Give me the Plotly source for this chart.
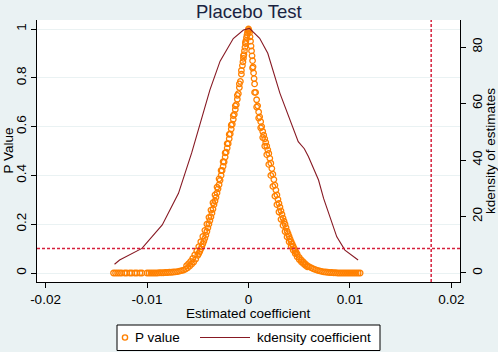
import plotly.graph_objects as go

title_text = "Placebo Test"

# Placebo estimates and their p-values: main run of points
coef_x = [
    -0.0133, -0.0131, -0.0129, -0.0127, -0.0125, -0.0122, -0.0120, -0.0117, -0.0115, -0.0112,
    -0.0110, -0.0107, -0.0105, -0.0100, -0.0098, -0.0096, -0.0094, -0.0092, -0.0090, -0.0088,
    -0.0086, -0.0084, -0.0082, -0.0080, -0.0078, -0.0076, -0.0074, -0.0072, -0.0070, -0.0068,
    -0.0066, -0.0064, -0.0062, -0.0060, -0.0058, -0.0056, -0.0054, -0.0052, -0.0050, -0.0049,
    -0.0048, -0.0047, -0.0046, -0.0045, -0.0044, -0.0043, -0.0042, -0.0041, -0.0040, -0.0039,
    -0.0038, -0.0037, -0.0036, -0.0035, -0.0034, -0.0033, -0.0032, -0.0031, -0.0030, -0.0029,
    -0.0028, -0.0027, -0.0026, -0.0025, -0.0024, -0.0023, -0.0022, -0.0021, -0.0020, -0.0019,
    -0.0018, -0.0017, -0.0016, -0.0015, -0.0014, -0.0013, -0.0012, -0.0011, -0.0010, -0.0009,
    -0.0008, -0.0007, -0.0006, -0.00055, -0.0005, -0.00045, -0.0004, -0.00035, -0.0003, -0.00025,
    -0.0002, -0.00015, -0.0001, -0.00005, 0.0000,
    0.00005, 0.0001, 0.00015, 0.0002, 0.00025, 0.0003, 0.00035, 0.0004, 0.00045, 0.0005,
    0.00055, 0.0006, 0.0007, 0.0008, 0.0009, 0.0010, 0.0011, 0.0012, 0.0013, 0.0014,
    0.0015, 0.0016, 0.0017, 0.0018, 0.0019, 0.0020, 0.0021, 0.0022, 0.0023, 0.0024,
    0.0025, 0.0026, 0.0027, 0.0028, 0.0029, 0.0030, 0.0031, 0.0032, 0.0033, 0.0034,
    0.0035, 0.0036, 0.0037, 0.0038, 0.0039, 0.0040, 0.0041, 0.0042, 0.0043, 0.0044,
    0.0045, 0.0046, 0.0047, 0.0048, 0.0050, 0.0052, 0.0054, 0.0056, 0.0058, 0.0060,
    0.0062, 0.0064, 0.0066, 0.0068, 0.0070, 0.0072, 0.0074, 0.0076, 0.0078, 0.0080,
    0.0082, 0.0084, 0.0086, 0.0088, 0.0090, 0.0092, 0.0094, 0.0096, 0.0098, 0.0100,
    0.0102, 0.0104, 0.0106, 0.0108, 0.0110,
]
p_value = [
    0.000, 0.000, 0.000, 0.000, 0.000, 0.000, 0.000, 0.000, 0.000, 0.000,
    0.000, 0.000, 0.000, 0.000, 0.000, 0.000, 0.000, 0.000, 0.000, 0.001,
    0.001, 0.001, 0.002, 0.002, 0.003, 0.003, 0.004, 0.005, 0.006, 0.008,
    0.010, 0.012, 0.016, 0.021, 0.028, 0.036, 0.045, 0.057, 0.072, 0.080,
    0.088, 0.098, 0.108, 0.119, 0.130, 0.142, 0.155, 0.170, 0.185, 0.200,
    0.215, 0.230, 0.245, 0.262, 0.280, 0.295, 0.310, 0.328, 0.345, 0.362,
    0.380, 0.400, 0.420, 0.437, 0.455, 0.475, 0.495, 0.512, 0.530, 0.550,
    0.570, 0.590, 0.610, 0.630, 0.650, 0.670, 0.690, 0.712, 0.735, 0.760,
    0.785, 0.815, 0.850, 0.865, 0.880, 0.895, 0.910, 0.925, 0.940, 0.952,
    0.965, 0.975, 0.985, 0.993, 1.000,
    0.993, 0.985, 0.968, 0.950, 0.930, 0.910, 0.890, 0.870, 0.845, 0.820,
    0.797, 0.775, 0.740, 0.710, 0.685, 0.660, 0.640, 0.620, 0.600, 0.580,
    0.565, 0.550, 0.535, 0.520, 0.505, 0.490, 0.470, 0.450, 0.428, 0.405,
    0.383, 0.360, 0.340, 0.320, 0.302, 0.285, 0.270, 0.255, 0.240, 0.225,
    0.212, 0.200, 0.186, 0.172, 0.161, 0.150, 0.139, 0.128, 0.119, 0.110,
    0.101, 0.092, 0.084, 0.077, 0.064, 0.054, 0.045, 0.037, 0.030, 0.025,
    0.021, 0.017, 0.014, 0.011, 0.009, 0.007, 0.005, 0.004, 0.003, 0.002,
    0.002, 0.001, 0.001, 0.000, 0.000, 0.000, 0.000, 0.000, 0.000, 0.000,
    0.000, 0.000, 0.000, 0.000, 0.000,
]
# Further estimates along the other edge of the thick band
coef_x_edge = [
    -0.0061, -0.0059, -0.0057, -0.0055, -0.0053, -0.0051, -0.0049, -0.0047, -0.0045, -0.0043,
    -0.0041, -0.0039, -0.0037, -0.0035, -0.0033, -0.0031, -0.0029, -0.0027, -0.0025, -0.0023,
    -0.0021, -0.0019, -0.0017, -0.0015, -0.0013, -0.0011, -0.0009, -0.0007, -0.0005, -0.0003,
    0.0004, 0.0006, 0.0008, 0.0010, 0.0012, 0.0014, 0.0016, 0.0018, 0.0020, 0.0022,
    0.0024, 0.0026, 0.0028, 0.0030, 0.0032, 0.0034, 0.0036, 0.0038, 0.0040, 0.0042,
    0.0044, 0.0046, 0.0048, 0.0050, 0.0052, 0.0054, 0.0056, 0.0058,
]
p_value_edge = [
    0.030, 0.038, 0.048, 0.060, 0.074, 0.090, 0.108, 0.128, 0.150, 0.175,
    0.200, 0.228, 0.258, 0.288, 0.320, 0.352, 0.386, 0.420, 0.456, 0.492,
    0.530, 0.568, 0.606, 0.645, 0.685, 0.728, 0.775, 0.830, 0.890, 0.945,
    0.840, 0.740, 0.680, 0.635, 0.595, 0.555, 0.520, 0.485, 0.445, 0.400,
    0.355, 0.315, 0.280, 0.250, 0.220, 0.195, 0.170, 0.148, 0.128, 0.110,
    0.094, 0.080, 0.066, 0.055, 0.046, 0.038, 0.031, 0.025,
]

# Kernel density of the estimates
kd_x = [-0.0132, -0.0127, -0.0105, -0.0085, -0.0069, -0.0056, -0.0048, -0.0038, -0.0028,
        -0.0015, -0.0005, 0.0001, 0.0011, 0.0019, 0.0031, 0.0041, 0.0049, 0.0055, 0.0059,
        0.0069, 0.0074, 0.0087, 0.0095, 0.0108]
kd_y = [3.1, 4.6, 8.7, 17.0, 28.2, 42.5, 52.4, 64.8, 75.0,
        83.0, 86.0, 86.6, 83.1, 77.8, 63.6, 54.2, 46.5, 44.0, 41.2,
        32.9, 26.4, 12.8, 8.1, 4.6]

x_ticks = [-0.02, -0.01, 0, 0.01, 0.02]
x_tick_labels = ["-0.02", "-0.01", "0", "0.01", "0.02"]
y_ticks = [0, 0.2, 0.4, 0.6, 0.8, 1]
y_tick_labels = ["0", "0.2", "0.4", "0.6", "0.8", "1"]
y2_ticks = [0, 20, 40, 60, 80]
y2_tick_labels = ["0", "20", "40", "60", "80"]

series_names = ["P value", "kdensity coefficient"]
x_title = "Estimated coefficient"
y_title = "P Value"
y2_title = "kdensity of estimates"

p_threshold = 0.1
true_coef = 0.018

FONT = "Liberation Sans, Arial, sans-serif"
ORANGE = "rgb(255,128,0)"
MAROON = "rgb(135,25,35)"
RED = "rgb(214,32,60)"
BG = "rgb(234,242,243)"
TITLE_COLOR = "rgb(25,35,65)"

# plot area in pixels: left 37, right 460, top 20, bottom 282
L, R, T, B = 37, 460, 20, 282
W, H = 498, 352


def px(xp):
    return (xp - L) / (R - L)


def py(yp):
    return (B - yp) / (B - T)


fig = go.Figure()
fig.add_trace(go.Scatter(
    x=coef_x + coef_x_edge, y=p_value + p_value_edge, mode="markers", name=series_names[0],
    marker=dict(symbol="circle-open", size=5.5, color=ORANGE, line=dict(width=1.3, color=ORANGE)),
    yaxis="y",
))
fig.add_trace(go.Scatter(
    x=kd_x, y=kd_y, mode="lines", name=series_names[1],
    line=dict(color=MAROON, width=1.1), yaxis="y2",
))

fig.add_shape(type="line", xref="paper", x0=0, x1=1, yref="y", y0=p_threshold, y1=p_threshold,
              line=dict(color=RED, width=1.5, dash="3px,2px"))
fig.add_shape(type="line", xref="x", x0=true_coef, x1=true_coef, yref="paper", y0=0, y1=1,
              line=dict(color=RED, width=1.5, dash="3px,2px"))

# legend box drawn by hand, Stata style
fig.add_shape(type="rect", xref="paper", yref="paper", x0=px(117), x1=px(380), y0=py(350.5), y1=py(325),
              line=dict(color="black", width=1), fillcolor="white", layer="above")
fig.add_shape(type="circle", xref="paper", yref="paper", xsizemode="pixel", ysizemode="pixel",
              xanchor=px(125), yanchor=py(337.5), x0=-2.6, x1=2.6, y0=-2.6, y1=2.6,
              line=dict(color=ORANGE, width=1.4), layer="above")
fig.add_shape(type="line", xref="paper", yref="paper", x0=px(200), x1=px(250), y0=py(337.5), y1=py(337.5),
              line=dict(color=MAROON, width=1.1), layer="above")

annos = [
    dict(text=series_names[0], x=px(134), y=py(337.5), xanchor="left", yanchor="middle", font=dict(size=13.5)),
    dict(text=series_names[1], x=px(256), y=py(337.5), xanchor="left", yanchor="middle", font=dict(size=13.5)),
    dict(text=x_title, x=0.5, y=py(313), xanchor="center", yanchor="middle", font=dict(size=13.5)),
    dict(text=y_title, x=px(7.5), y=0.5, xanchor="center", yanchor="middle", textangle=-90, font=dict(size=13.5)),
    dict(text=y2_title, x=px(490), y=0.5, xanchor="center", yanchor="middle", textangle=-90, font=dict(size=13.5)),
    dict(text=title_text, x=0.5, y=py(0), xanchor="center", yanchor="top",
         font=dict(size=18.5, color=TITLE_COLOR)),
]
for a in annos:
    a.update(xref="paper", yref="paper", showarrow=False, borderpad=0)
    a["font"].setdefault("color", "black")
    a["font"].update(family=FONT)
    fig.add_annotation(**a)

axis_common = dict(showline=True, linecolor="black", linewidth=1, ticks="outside",
                   ticklen=5, tickcolor="black", tickfont=dict(size=13.5, color="black", family=FONT),
                   zeroline=False, automargin=False)

fig.update_layout(
    width=W, height=H,
    margin=dict(l=L, r=W - R, t=T, b=H - B),
    paper_bgcolor=BG, plot_bgcolor="white",
    font=dict(family=FONT, size=13, color="black"),
    showlegend=False,
    xaxis=dict(range=[-0.02084, 0.02084], tickvals=x_ticks, ticktext=x_tick_labels,
               showgrid=False, ticklabelstandoff=0, **axis_common),
    yaxis=dict(range=[-0.0369, 1.0369], tickvals=y_ticks, ticktext=y_tick_labels, tickangle=-90,
               showgrid=True, gridcolor=BG, gridwidth=1, **axis_common),
    yaxis2=dict(range=[-3.19, 89.56], tickvals=y2_ticks, ticktext=y2_tick_labels, tickangle=-90,
                overlaying="y", side="right", showgrid=False, **axis_common),
)

fig.write_html("out.html", config={"displayModeBar": False},
               post_script="document.body.style.margin='0';document.body.style.overflow='hidden';")
